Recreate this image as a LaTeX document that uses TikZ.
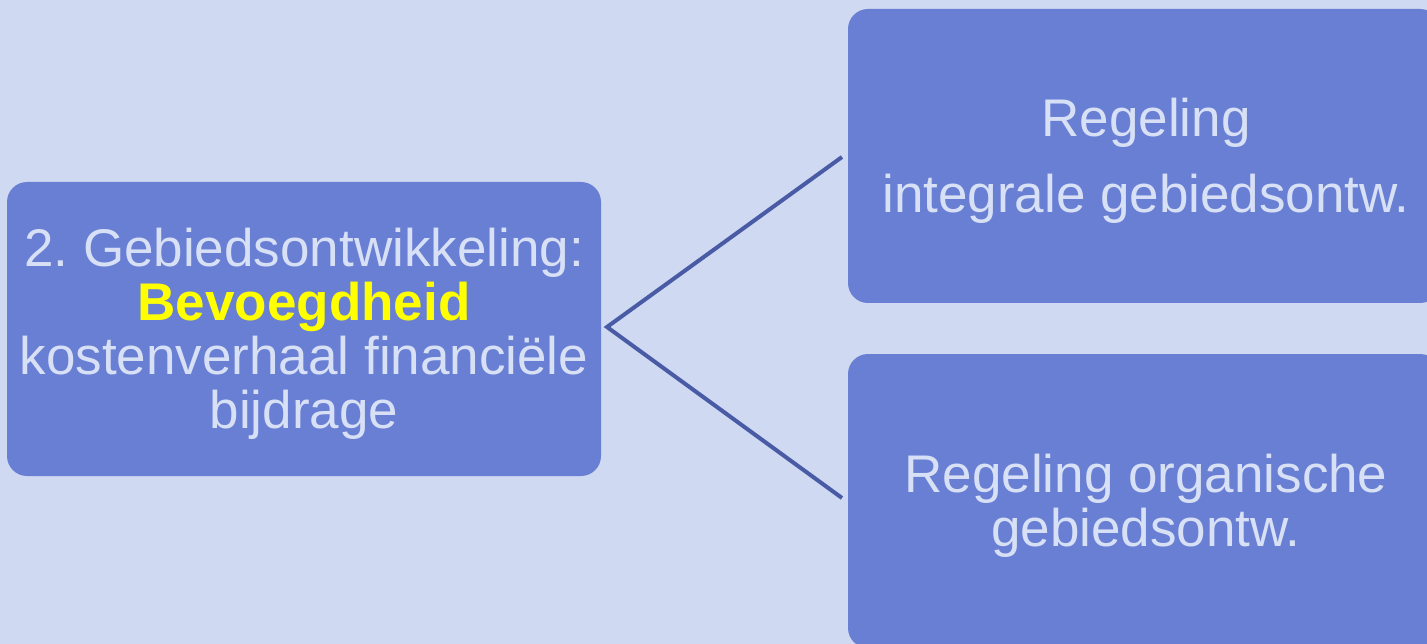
\documentclass[tikz,border=0pt]{standalone}
\usepackage{fontspec}
\setmainfont{Liberation Sans}
\frenchspacing
\definecolor{bg}{HTML}{D0D9F2}
\definecolor{boxfill}{HTML}{687FD4}
\definecolor{txt}{HTML}{D8E0F6}
\definecolor{conn}{HTML}{4A5BA6}
\definecolor{hilite}{HTML}{FFFF00}
\begin{document}
\begin{tikzpicture}[x=1pt,y=-1pt,
  box/.style={fill=boxfill, rounded corners=20pt, draw=none, inner sep=0pt,
    minimum height=294pt},
  lbl/.style={inner sep=0pt, text=txt, align=center,
    font=\fontsize{53}{54}\selectfont\frenchspacing},
  connline/.style={draw=conn, line width=4pt}]
\useasboundingbox (0,0) rectangle (1427,644);
\clip (0,0) rectangle (1427,644);
\fill[bg] (0,0) rectangle (1427,644);
\node[box, minimum width=594pt] (left) at (304,329) {};
\node[box, minimum width=592pt] (top) at (1144,156) {};
\node[box, minimum width=592pt] (bottom) at (1144,501) {};
\node[lbl] (lefttext) at ([yshift=-5pt]left.center)
  {2. Gebiedsontwikkeling:\\ {\bfseries\color{hilite}Bevoegdheid}\\ kostenverhaal financiële\\ bijdrage};
\node[lbl] (toptext) at ([xshift=2pt,yshift=-5pt]top.center)
  {Regeling\\[22pt] integrale gebiedsontw.};
\node[lbl] (bottomtext) at ([xshift=2pt,yshift=-5pt]bottom.center)
  {Regeling organische\\ gebiedsontw.};
\coordinate (hub) at (607,327);
\coordinate (c1) at (842,157);
\coordinate (c2) at (842,498);
\draw[connline] (c1) -- (hub) -- (c2);
\end{tikzpicture}
\end{document}
